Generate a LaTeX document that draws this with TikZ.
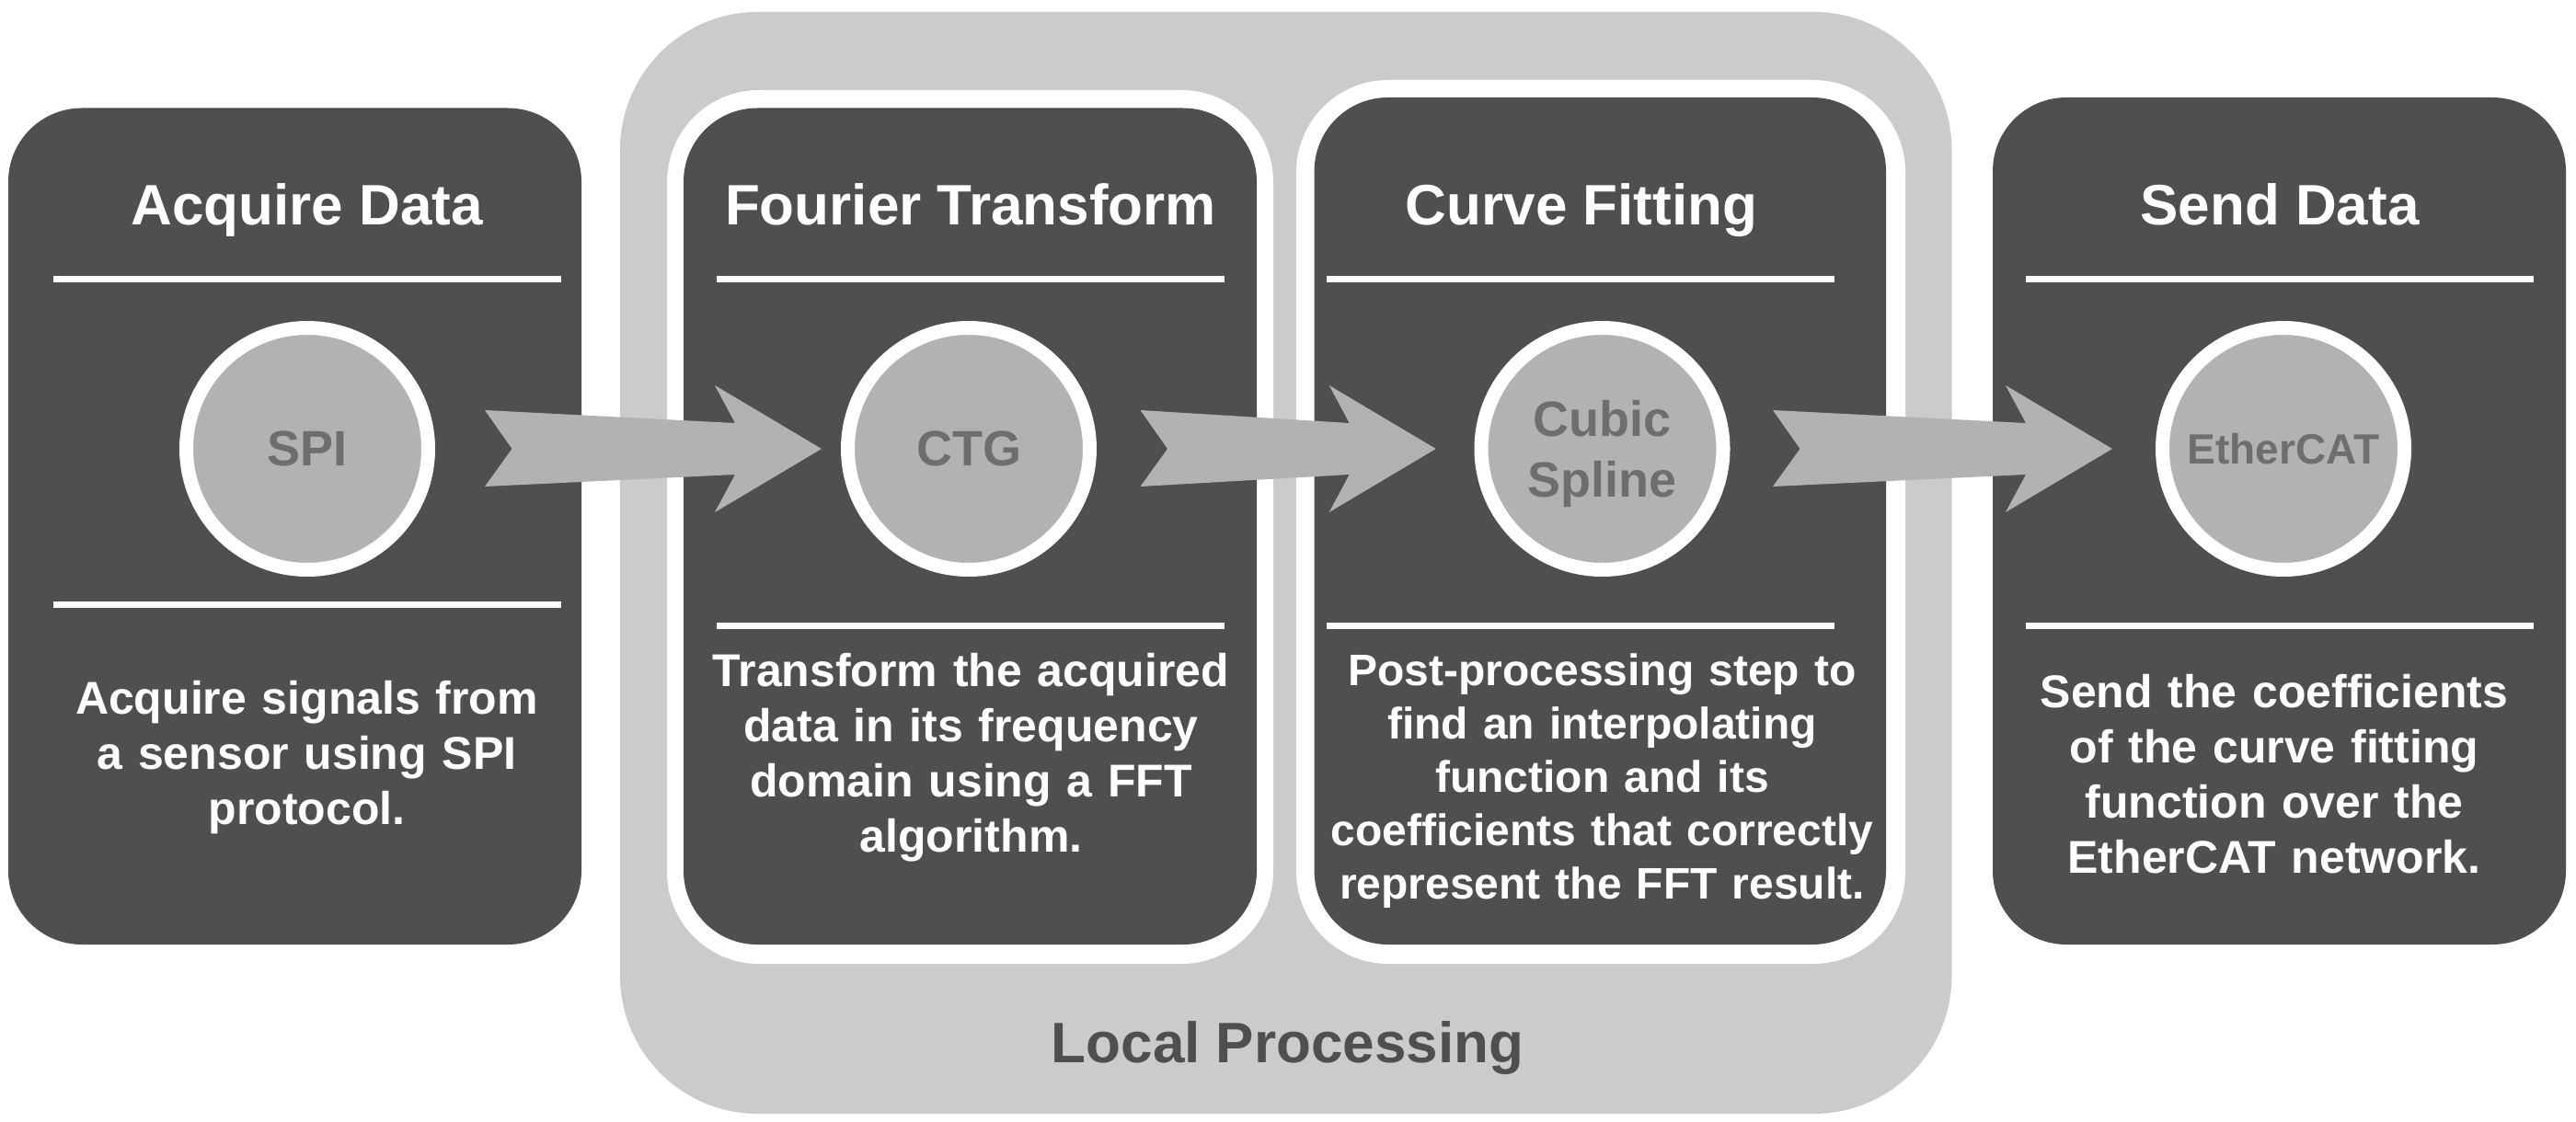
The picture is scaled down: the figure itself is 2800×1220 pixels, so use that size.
\documentclass[tikz,border=0pt]{standalone}
\usepackage{fontspec}
\setmainfont{Liberation Sans}
\usetikzlibrary{calc}
\definecolor{boxdark}{HTML}{4F4F4F}
\definecolor{groupgray}{HTML}{CBCBCB}
\definecolor{bubblefill}{HTML}{B2B2B2}
\definecolor{bubbletext}{HTML}{6E6E6E}
\newcommand\blockarrow[2]{%
  \fill[arrowfill] ($(#1)+(0,-42)$) -- ($(#1)+(29.5,0)$) -- ($(#1)+(0,41)$)
    -- ($(#2)+(-94,28)$) -- ($(#2)+(-116,69)$) -- (#2)
    -- ($(#2)+(-116,-69)$) -- ($(#2)+(-94,-28)$) -- cycle;}
\begin{document}
\begin{tikzpicture}[x=0.5pt,y=-0.5pt,
  panelbox/.style={rectangle, fill=boxdark, rounded corners=40pt, inner sep=0pt, outer sep=0pt},
  framebox/.style={rectangle, fill=white, rounded corners=50pt, inner sep=0pt, outer sep=0pt},
  groupbox/.style={rectangle, fill=groupgray, rounded corners=75pt, inner sep=0pt, outer sep=0pt},
  bubblenode/.style={circle, fill=bubblefill, draw=white, line width=7.5pt, minimum size=131.5pt,
     inner sep=0pt, text=bubbletext, font=\bfseries\fontsize{27}{33}\selectfont, align=center},
  titletext/.style={text=white, font=\bfseries\fontsize{31}{37}\selectfont, anchor=base, inner sep=0pt},
  bodytext/.style={text=white, font=\bfseries\fontsize{25}{30}\selectfont, anchor=base, inner sep=0pt,
     text width=330pt, align=center},
  sepline/.style={white, line width=3.5pt},
  arrowfill/.style={fill=bubblefill}
]
\fill[white] (0,0) rectangle (2800,1220);
\useasboundingbox (0,0) rectangle (2800,1220);

% group background
\node[groupbox, minimum width=723.75pt, minimum height=599pt] (grp) at (1397.75,612) {};
\node[text=boxdark, font=\bfseries\fontsize{31}{37}\selectfont, anchor=base, inner sep=0pt] (grpT) at (1399.5,1155) {Local Processing};

% white frames
\node[framebox, minimum width=329.5pt, minimum height=475pt] (fouF) at (1054.5,573) {};
\node[framebox, minimum width=331pt, minimum height=480.5pt] (curF) at (1740,567.5) {};

% panels
\node[panelbox, minimum width=311.5pt, minimum height=454.75pt] (acq) at (320.5,572.25) {};
\node[panelbox, minimum width=311.5pt, minimum height=454.75pt] (fou) at (1054.5,572.25) {};
\node[panelbox, minimum width=310.7pt, minimum height=460.5pt] (cur) at (1739.3,566.5) {};
\node[panelbox, minimum width=311.5pt, minimum height=460.5pt] (snd) at (2477.5,566.5) {};

% titles
\node[titletext] (acqT) at (333.5,244) {Acquire Data};
\node[titletext] (fouT) at (1055,244) {Fourier Transform};
\node[titletext] (curT) at (1719,244) {Curve Fitting};
\node[titletext] (sndT) at (2478,244) {Send Data};

% separators
\draw[sepline] (58,303) -- (610,303);
\draw[sepline] (58,657) -- (610,657);
\draw[sepline] (779,303) -- (1331,303);
\draw[sepline] (779,680) -- (1331,680);
\draw[sepline] (1442,303) -- (1994,303);
\draw[sepline] (1442,680) -- (1994,680);
\draw[sepline] (2202,303) -- (2754,303);
\draw[sepline] (2202,680) -- (2754,680);

% circles
\node[bubblenode] (spi) at (334,488) {SPI};
\node[bubblenode] (ctg) at (1053,488) {CTG};
\node[bubblenode] (cub) at (1741.5,488) {Cubic\\\raisebox{0pt}[\height][0pt]{Spline}};
\node[bubblenode, font=\bfseries\fontsize{23}{28}\selectfont] (eth) at (2482,488) {EtherCAT};

% body texts
\node[bodytext] (acqB) at (333.5,776.5) {Acquire signals from\\a sensor using SPI\\protocol.};
\node[bodytext] (fouB) at (1055.5,746) {Transform the acquired\\data in its frequency\\domain using a FFT\\algorithm.};
\node[bodytext, font=\bfseries\fontsize{24}{29}\selectfont] (curB) at (1741.5,745) {Post-processing step to\\find an interpolating\\function and its\\coefficients that correctly\\represent the FFT result.};
\node[bodytext] (sndB) at (2472,769.5) {Send the coefficients\\of the curve fitting\\function over the\\EtherCAT network.};

% arrows
\coordinate (a1s) at (527,488);
\coordinate (a1e) at (893,488);
\coordinate (a2s) at (1239.5,488);
\coordinate (a2e) at (1560.7,488);
\coordinate (a3s) at (1927,488);
\coordinate (a3e) at (2296,488);
\blockarrow{a1s}{a1e}
\blockarrow{a2s}{a2e}
\blockarrow{a3s}{a3e}
\end{tikzpicture}
\end{document}
